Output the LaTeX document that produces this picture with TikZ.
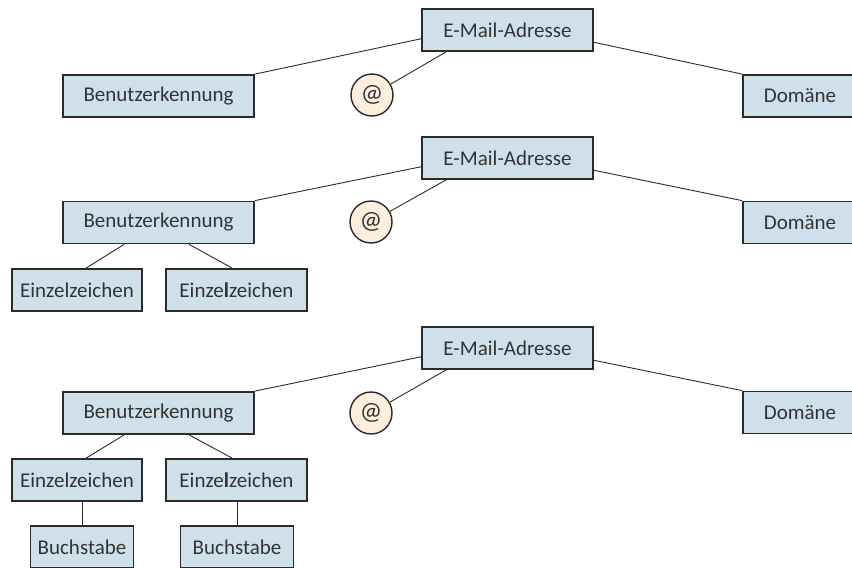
\documentclass[tikz,border=0pt]{standalone}
\usepackage{fontspec}
\setmainfont{Carlito}
\usetikzlibrary{calc}
\definecolor{boxfill}{HTML}{CFE0EA}
\definecolor{atfill}{HTML}{FDEEDE}
\definecolor{ink}{HTML}{2B2B2B}
\definecolor{txt}{HTML}{333333}
\tikzset{
  term/.style={draw=ink, line width=1.8pt, fill=boxfill, text=txt,
    font=\fontsize{21}{24}\selectfont, minimum height=42pt, inner xsep=0pt},
  atsign/.style={circle, draw=ink, line width=1.4pt, fill=atfill,
    minimum size=42pt, inner sep=0pt, text=txt, font=\fontsize{25}{28}\selectfont},
  link/.style={draw=ink, line width=0.9pt}
}
\begin{document}
\begin{tikzpicture}[x=1pt, y=-1pt]
  \clip (0,0) rectangle (852,568);

  % --- first tree: address split into user name, @ and domain
  \node[term, minimum width=171pt] (em1) at (507.5,30) {E-Mail-Adresse};
  \node[term, minimum width=191pt] (bk1) at (158.5,96) {Benutzerkennung};
  \node[atsign] (at1) at (372,95) {@};
  \node[term, minimum width=114pt] (dom1) at (800,96) {Domäne};
  \draw[link] ($(em1.south west)!0.3!(em1.north west)$) -- (bk1.north east);
  \draw[link] ($(em1.south west)+(25,0)$) -- (at1);
  \draw[link] ($(em1.south east)!0.22!(em1.north east)$) -- (dom1.north west);

  % --- second tree: user name split into single characters
  \node[term, minimum width=171pt] (em2) at (507.5,158) {E-Mail-Adresse};
  \node[term, minimum width=191pt] (bk2) at (158.5,222.5) {Benutzerkennung};
  \node[atsign] (at2) at (371,222) {@};
  \node[term, minimum width=114pt] (dom2) at (800,222.5) {Domäne};
  \node[term, minimum width=130pt] (e21) at (77,290) {Einzelzeichen};
  \node[term, minimum width=141pt] (e22) at (236.5,290) {Einze\textbf{l}zeichen};
  \draw[link] ($(em2.south west)!0.3!(em2.north west)$) -- (bk2.north east);
  \draw[link] ($(em2.south west)+(25,0)$) -- (at2);
  \draw[link] ($(em2.south east)!0.22!(em2.north east)$) -- (dom2.north west);
  \draw[link] ($(bk2.south west)+(62,0)$) -- ($(e21.north west)+(75,0)$);
  \draw[link] ($(bk2.south west)+(127,0)$) -- ($(e22.north west)+(67,0)$);

  % --- third tree: characters refined into letters
  \node[term, minimum width=171pt] (em3) at (507.5,348) {E-Mail-Adresse};
  \node[term, minimum width=191pt] (bk3) at (158.5,413) {Benutzerkennung};
  \node[atsign] (at3) at (371,413) {@};
  \node[term, minimum width=114pt] (dom3) at (800,412.5) {Domäne};
  \node[term, minimum width=130pt] (e31) at (77,480) {Einzelzeichen};
  \node[term, minimum width=141pt] (e32) at (236.5,480) {Einze\textbf{l}zeichen};
  \node[term, minimum width=103pt] (b31) at (82,547) {Buchstabe};
  \node[term, minimum width=113pt] (b32) at (237,547) {Buchstabe};
  \draw[link] ($(em3.south west)!0.3!(em3.north west)$) -- (bk3.north east);
  \draw[link] ($(em3.south west)+(25,0)$) -- (at3);
  \draw[link] ($(em3.south east)!0.22!(em3.north east)$) -- (dom3.north west);
  \draw[link] ($(bk3.south west)+(62,0)$) -- ($(e31.north west)+(75,0)$);
  \draw[link] ($(bk3.south west)+(127,0)$) -- ($(e32.north west)+(67,0)$);
  \draw[link] (b31.north |- e31.south) -- (b31.north);
  \draw[link] (b32.north |- e32.south) -- (b32.north);
\end{tikzpicture}
\end{document}
